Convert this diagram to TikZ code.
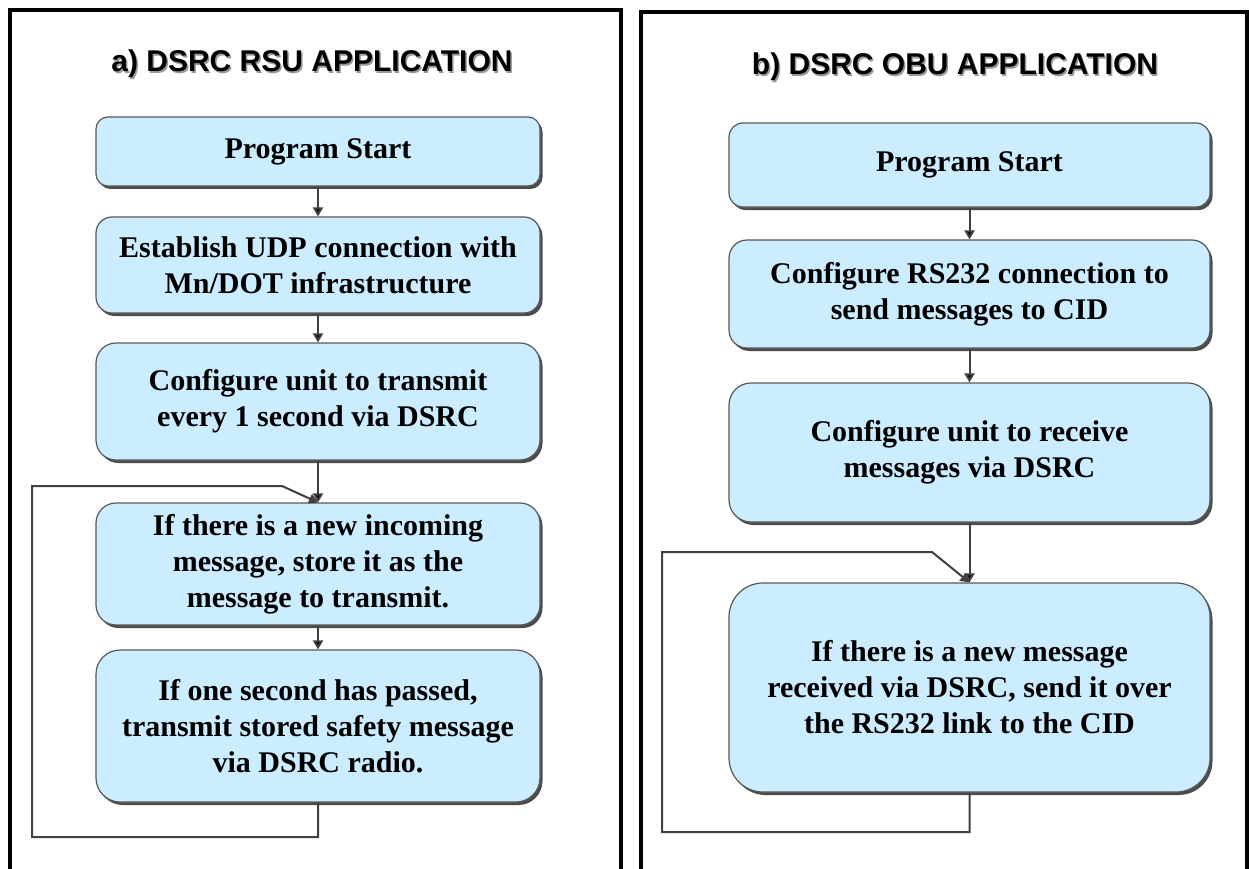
\documentclass[tikz,border=0pt]{standalone}
\usepackage{fontspec}
\setmainfont{Liberation Serif}
\setsansfont{Liberation Sans}
\usetikzlibrary{positioning,arrows.meta,shadows}

\definecolor{boxblue}{RGB}{204,236,255}
\definecolor{edgegray}{RGB}{88,88,88}
\definecolor{linegray}{RGB}{64,64,64}

\newcommand{\shadowtitle}[1]{\makebox[0pt][l]{\hspace{1.5pt}\raisebox{-2pt}{\color{black!40}#1}}#1}

\begin{document}
\begin{tikzpicture}[x=1pt, y=-1pt,
    stepbox/.style={draw=edgegray, line width=1.2pt, fill=boxblue,
        rounded corners=#1, align=center, inner sep=0pt,
        font=\fontsize{30}{36}\selectfont\bfseries,
        drop shadow={shadow xshift=2.5pt, shadow yshift=-3pt, fill=black!70, opacity=1}},
    rsu/.style={stepbox=#1, minimum width=444pt},
    obu/.style={stepbox=#1, minimum width=481pt},
    heading/.style={font=\sffamily\fontsize{30}{36}\selectfont\bfseries},
    flow/.style={draw=linegray, line width=2pt, -{Triangle[length=9pt,width=10pt]}},
    frame/.style={line width=4pt}]

    \useasboundingbox (0,0) rectangle (1249,869);
    \clip (0,0) rectangle (1249,869);
    \fill[white] (0,0) rectangle (1249,869);

    % panel frames
    \draw[frame] (10,880) |- (621,10) -- (621,880);
    \draw[frame] (641,880) |- (1247,12) -- (1247,880);

    \node[heading] (rsutitle) at (312,65) {\shadowtitle{a) DSRC RSU APPLICATION}};
    \node[heading] (obutitle) at (955,68) {\shadowtitle{b) DSRC OBU APPLICATION}};

    % a) RSU
    \node[rsu=12pt, minimum height=69pt] (lstart) at (318,151.5) {Program Start};
    \node[rsu=16pt, minimum height=96pt] (ludp) at (318,265) {Establish UDP connection with\\ Mn/DOT infrastructure};
    \node[rsu=20pt, minimum height=117pt] (lconf) at (318,401.5) {Configure unit to transmit\\ every 1 second via DSRC};
    \node[rsu=20pt, minimum height=122pt] (lstore) at (318,564) {If there is a new incoming\\ message, store it as the\\ message to transmit.};
    \node[rsu=24pt, minimum height=152pt] (lsend) at (318,726) {If one second has passed,\\ transmit stored safety message\\ via DSRC radio.};

    % b) OBU
    \node[obu=14pt, minimum height=84pt] (rstart) at (969.5,165) {Program Start};
    \node[obu=18pt, minimum height=108pt] (rrs) at (969.5,294) {Configure RS232 connection to\\ send messages to CID};
    \node[obu=22pt, minimum height=139pt] (rconf) at (969.5,452.5) {Configure unit to receive\\ messages via DSRC};
    \node[obu=34pt, minimum height=209pt] (rsend) at (969.5,687.5) {If there is a new message\\ received via DSRC, send it over\\ the RS232 link to the CID};

    \path[flow]
        (lstart) edge (ludp)
        (ludp) edge (lconf)
        (lconf) edge (lstore.north)
        (lstore) edge (lsend)
        (rstart) edge (rrs)
        (rrs) edge (rconf)
        (rconf) edge (rsend.north);

    % loop back lines
    \coordinate (rsuturn) at (318,837);
    \coordinate (rsucorner) at (32,837);
    \coordinate (rsutop) at (32,486);
    \coordinate (rsuknee) at (282,486);
    \draw[flow] (lsend) -- (rsuturn) -- (rsucorner) -- (rsutop) -- (rsuknee) -- (lstore.north);

    \coordinate (obuturn) at (969.5,832);
    \coordinate (obucorner) at (662,832);
    \coordinate (obutop) at (662,552);
    \coordinate (obuknee) at (932,552);
    \draw[flow] (rsend) -- (obuturn) -- (obucorner) -- (obutop) -- (obuknee) -- (rsend.north);
\end{tikzpicture}
\end{document}
